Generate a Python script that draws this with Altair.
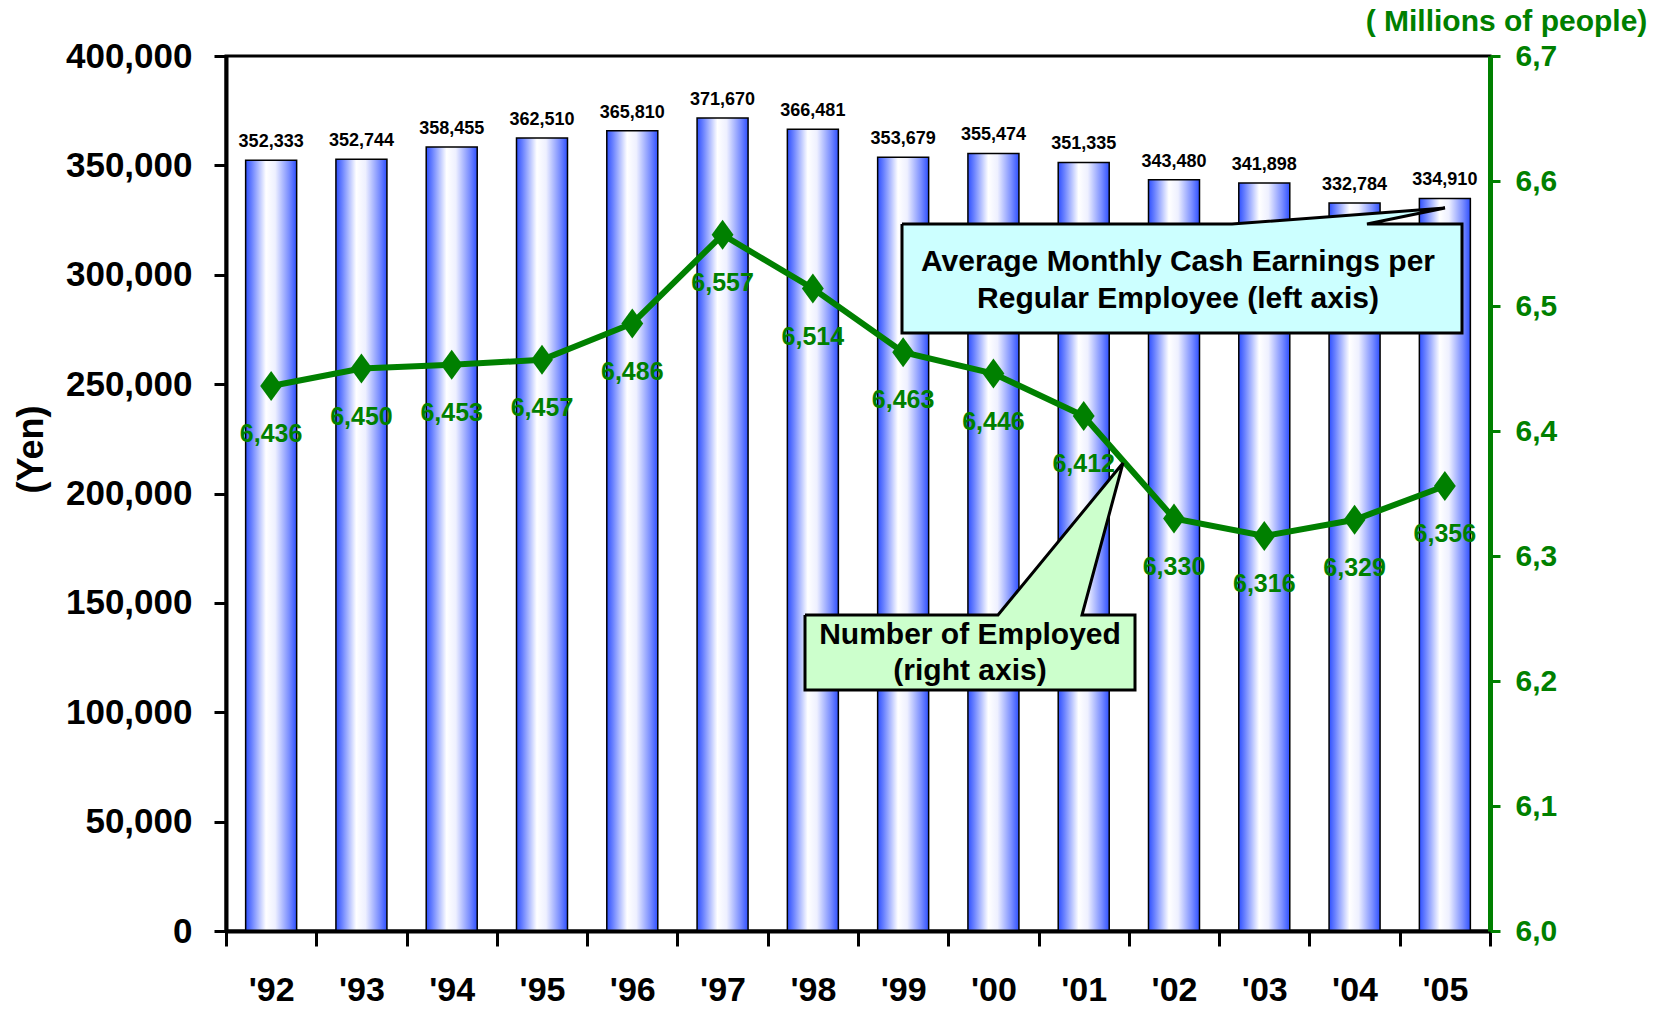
import altair as alt
import pandas as pd

years = ["'92", "'93", "'94", "'95", "'96", "'97", "'98", "'99", "'00", "'01", "'02", "'03", "'04", "'05"]
earnings = [352333, 352744, 358455, 362510, 365810, 371670, 366481, 353679, 355474, 351335, 343480, 341898, 332784, 334910]
employed = [6436, 6450, 6453, 6457, 6486, 6557, 6514, 6463, 6446, 6412, 6330, 6316, 6329, 6356]

left_ticks = [0, 50000, 100000, 150000, 200000, 250000, 300000, 350000, 400000]
right_ticks = [6000, 6100, 6200, 6300, 6400, 6500, 6600, 6700]

# callout shapes (pixel coordinates inside the plot area)
cyan_px = [676, 1006, 1219, 1141, 1236, 1236, 676, 676]
cyan_py = [168, 168, 152, 168, 168, 277, 277, 168]
green_px = [579, 772, 897, 856, 909, 909, 579, 579]
green_py = [559, 559, 407, 559, 559, 634, 634, 559]
callout_text = ["Average Monthly Cash Earnings per", "Regular Employee (left axis)",
                "Number of Employed", "(right axis)"]
callout_tx = [952, 952, 744, 744]
callout_ty = [206, 243, 579, 615]

FONT = "Liberation Sans, Arial, sans-serif"
GREEN = "#008000"

df = pd.DataFrame({"year": years, "earn": earnings, "emp": employed})

x_enc = alt.X("year:N", sort=years, scale=alt.Scale(paddingInner=0, paddingOuter=0),
              axis=alt.Axis(title=None, labelAngle=0, labelFont=FONT, labelFontSize=34,
                            labelFontWeight="bold", labelColor="black", labelPadding=27,
                            tickBand="extent", tickSize=15, tickWidth=3, tickColor="black",
                            domainColor="black", domainWidth=4, zindex=1))

bars = alt.Chart(df).mark_bar(
    size=51,
    color=alt.Gradient(gradient="linear", x1=0, x2=1, y1=0, y2=0,
                       stops=[alt.GradientStop(offset=0, color="#2f50ff"),
                              alt.GradientStop(offset=0.12, color="#6a82ff"),
                              alt.GradientStop(offset=0.4, color="#ffffff"),
                              alt.GradientStop(offset=0.58, color="#eef0ff"),
                              alt.GradientStop(offset=0.85, color="#7a8eff"),
                              alt.GradientStop(offset=1, color="#2f50ff")]),
    stroke="black", strokeWidth=1.5,
).encode(
    x=x_enc,
    y=alt.Y("earn:Q", scale=alt.Scale(domain=[0, 400000], nice=False, zero=True),
            axis=alt.Axis(title="(Yen)", values=left_ticks, format=",d", grid=False,
                          labelFont=FONT, labelFontSize=35, labelFontWeight="bold",
                          labelColor="black", labelPadding=22,
                          tickSize=12, tickWidth=3, tickColor="black",
                          domainColor="black", domainWidth=4,
                          titleFont=FONT, titleFontSize=36, titleFontWeight="bold",
                          titleColor="black", titleAngle=270, titleAlign="center",
                          titleBaseline="middle", titleX=-195, titleY=393, zindex=1)),
)

bar_text = alt.Chart(df).mark_text(
    dy=-9, baseline="bottom", font=FONT, fontSize=18, fontWeight="bold", color="black"
).encode(
    x=alt.X("year:N", sort=years),
    y=alt.Y("earn:Q"),
    text=alt.Text("earn:Q", format=",d"),
)

bar_layer = alt.layer(bars, bar_text)

y_right = alt.Y("emp:Q", scale=alt.Scale(domain=[6000, 6700], nice=False, zero=False),
                axis=alt.Axis(orient="right", values=right_ticks, grid=False,
                              labelExpr="replace(format(datum.value/1000, '.1f'), '.', ',')",
                              labelFont=FONT, labelFontSize=30, labelFontWeight="bold",
                              labelColor=GREEN, labelPadding=15,
                              tickSize=10, tickWidth=3, tickColor=GREEN,
                              domainColor=GREEN, domainWidth=5,
                              title="( Millions of people)", titleFont=FONT,
                              titleFontSize=30, titleFontWeight="bold", titleColor=GREEN,
                              titleAngle=0, titleAlign="center", titleBaseline="alphabetic",
                              titleX=16, titleY=-26, zindex=2))
x_line = alt.X("year:N", sort=years, scale=alt.Scale(paddingInner=0, paddingOuter=0), axis=None)

line = alt.Chart(df).mark_line(color=GREEN, strokeWidth=6).encode(x=x_line, y=y_right)
points = alt.Chart(df).mark_point(
    shape="M0,-1L0.73,0L0,1L-0.73,0Z", size=900, filled=True, color=GREEN, opacity=1
).encode(x=x_line, y=alt.Y("emp:Q"))
line_text = alt.Chart(df).mark_text(
    dy=48, baseline="middle", font=FONT, fontSize=25, fontWeight="bold", color=GREEN
).encode(x=x_line, y=alt.Y("emp:Q"), text=alt.Text("emp:Q", format=",d"))

line_layer = alt.layer(line, points, line_text)

cyan_df = pd.DataFrame({"px": cyan_px, "py": cyan_py, "i": list(range(len(cyan_px)))})
green_df = pd.DataFrame({"px": green_px, "py": green_py, "i": list(range(len(green_px)))})
text_df = pd.DataFrame({"t": callout_text, "px": callout_tx, "py": callout_ty})

ax = alt.X("px:Q", scale=None, axis=None)
ay = alt.Y("py:Q", scale=None, axis=None)
cyan_shape = alt.Chart(cyan_df).mark_line(
    fill="#ccffff", stroke="black", strokeWidth=3, strokeJoin="miter"
).encode(x=ax, y=ay, order="i:Q")
green_shape = alt.Chart(green_df).mark_line(
    fill="#ccffcc", stroke="black", strokeWidth=3, strokeJoin="miter"
).encode(x=ax, y=ay, order="i:Q")
callout_labels = alt.Chart(text_df).mark_text(
    font=FONT, fontSize=30, fontWeight="bold", color="black", baseline="middle", align="center"
).encode(x=ax, y=ay, text="t:N")

ann_layer = alt.layer(cyan_shape, green_shape, callout_labels)

chart = alt.layer(bar_layer, line_layer, ann_layer).resolve_scale(
    x="independent", y="independent"
).properties(
    width=1264, height=875,
    padding={"left": 218, "top": 48, "right": 170, "bottom": 76},
    autosize=alt.AutoSizeParams(type="none"),
).configure_view(stroke="black", strokeWidth=3)

chart.save("out.html", embed_options={"renderer": "svg", "actions": False})
